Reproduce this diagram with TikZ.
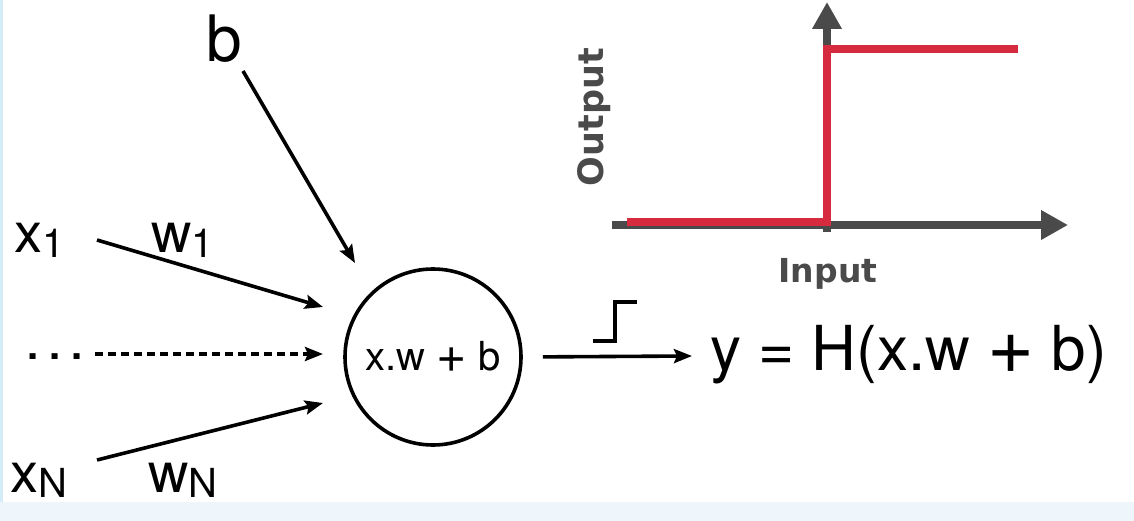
\documentclass[tikz,border=0pt]{standalone}
\usepackage{xcolor}
\usepackage{fontspec}
\setmainfont{TeX Gyre Heros}
\newfontfamily\axisfont{DejaVu Sans}
\usepackage{tikz}
\usetikzlibrary{arrows.meta, positioning}

\definecolor{axisgrey}{HTML}{4A4A4A}
\definecolor{stepred}{HTML}{D62B3E}
\definecolor{stripblue}{HTML}{EEF6FB}
\definecolor{edgeblue}{HTML}{D3ECF8}

\newcommand{\withsub}[2]{#1\raisebox{-5pt}{\fontsize{40}{40}\selectfont #2}}
\newcommand{\bigplus}{\raisebox{-0.06em}{\scalebox{1.3}{+}}}

\begin{document}
\begin{tikzpicture}[x=1pt, y=-1pt,
        lbl/.style={inner sep=0pt, anchor=base west, font=\fontsize{56}{60}\selectfont},
        wire/.style={line width=3.6pt, -{Stealth[length=18pt, width=14pt, inset=3pt]}},
        axis/.style={axisgrey, line width=7.5pt, -{Triangle[length=27pt, width=28pt]}},
        axislabel/.style={axisgrey, inner sep=0pt, font=\axisfont\bfseries\fontsize{33}{36}\selectfont}]
        \useasboundingbox (0,0) rectangle (1134,521);
        \fill[white] (0,0) rectangle (1134,502);
        \fill[stripblue] (0,502) rectangle (1134,521);
        \fill[edgeblue] (0,0) rectangle (3,502);

        \node[inner sep=0pt, anchor=base, font=\fontsize{64}{70}\selectfont] (b) at (224,62) {b};
        \node[lbl] (x1) at (14,253) {\withsub{x}{1}};
        \node[lbl] (w1) at (151,253) {\withsub{w}{1}};
        \node[lbl, font=\bfseries\fontsize{40}{40}\selectfont] (dots) at (27,359) {.\ .\ .};
        \node[lbl] (xN) at (10,492) {\withsub{x}{N}};
        \node[lbl] (wN) at (148,492) {\withsub{w}{N}};

        \node[circle, draw, line width=3.6pt, minimum size=176pt, inner sep=0pt,
              font=\fontsize{40}{40}\selectfont] (neuron) at (433,357) {x.w \bigplus{} b};

        \coordinate (b start) at (243,71);
        \coordinate (b tip) at (355,263);
        \coordinate (x1 start) at (97,240);
        \coordinate (x1 tip) at (323,307);
        \coordinate (dots start) at (95,354);
        \coordinate (dots tip) at (323,354);
        \coordinate (xN start) at (97,460);
        \coordinate (xN tip) at (323,403);
        \coordinate (out tip) at (692,356);

        \path[wire]
        (b start) edge (b tip)
        (x1 start) edge (x1 tip)
        (dots start) edge[dash pattern=on 8pt off 5pt] (dots tip)
        (xN start) edge (xN tip)
        (neuron.east) edge[shorten <=20pt] (out tip);

        % step symbol on the output wire
        \draw[line width=3.6pt] (593,341) -- (615,341) -- (615,302) -- (637,302);

        \node[inner sep=0pt, anchor=base west, font=\fontsize{62}{66}\selectfont] (y) at (710,370)
            {y = H(x.w \bigplus{} b)};

        % step function plot
        \coordinate (origin) at (827,225);
        \draw[axis] (827,232) -- (827,2);
        \draw[axis] (612,225) -- (1068,225);
        \draw[stepred, line width=7.5pt] (627,222) -- (827,222) -- (827,49) -- (1018,49);
        \node[axislabel] (input) at (828,274) {Input};
        \node[axislabel, rotate=90, font=\axisfont\bfseries\fontsize{35}{38}\selectfont] (output) at (594,117) {Output};
\end{tikzpicture}
\end{document}
